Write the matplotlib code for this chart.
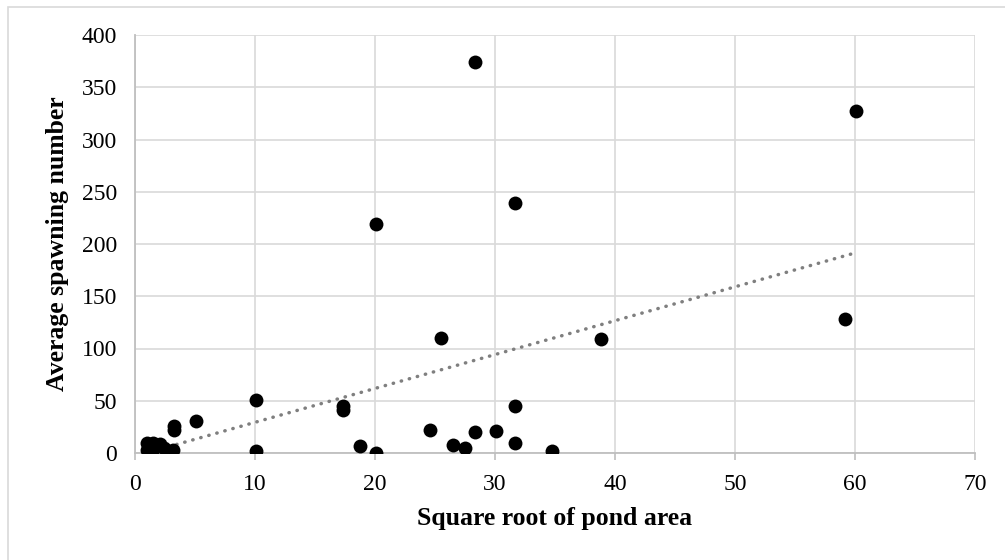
"""Scatter of average spawning number against square root of pond area."""

import matplotlib
matplotlib.use("Agg")
import matplotlib.pyplot as plt
import numpy as np

# Values
sqrt_area = [
    1.0, 1.5, 2.1, 1.0, 1.4, 2.4, 3.2, 3.25, 3.25, 5.1,
    10.1, 10.1, 17.3, 17.3, 18.75, 20.1, 20.1, 24.6, 25.5, 26.5,
    27.5, 28.3, 28.3, 30.05, 31.7, 31.7, 31.7, 34.75, 38.8, 59.2,
    60.1,
]
spawning = [
    10, 10, 9, 3, 0, 5, 3, 22, 26, 31,
    51, 2, 45, 41, 7, 219, 0, 22, 110, 8,
    5, 374, 20, 21, 239, 45, 10, 2, 109, 128,
    327,
]
x_ticks = [0, 10, 20, 30, 40, 50, 60, 70]
y_ticks = [0, 50, 100, 150, 200, 250, 300, 350, 400]

SERIF = ["Liberation Serif", "DejaVu Serif"]


def plot_spawning(x, y) -> None:
    """Draw the scatter with a linear trendline."""
    fig = plt.figure(figsize=(10.05, 5.6), dpi=100)
    ax = fig.add_axes([135 / 1005, 1 - 453 / 560, 840 / 1005, 418 / 560])

    # outer chart frame (left and top edges visible)
    fig.patches.append(plt.Rectangle((8 / 1005, -0.1), 1.2, 1 - 7 / 560 + 0.1,
                                     transform=fig.transFigure, fill=False,
                                     edgecolor="#d9d9d9", linewidth=1.2))

    ax.scatter(x, y, s=100, color="black", zorder=3, linewidths=0)

    coef = np.polyfit(x, y, 1)
    xs = np.array([min(x) - 0.2, max(x)])
    ax.plot(xs, np.polyval(coef, xs), color="#7f7f7f", linewidth=2.5,
            linestyle=(0, (0.1, 2.3)), dash_capstyle="round", zorder=2)

    ax.set_xlim(0, 70)
    ax.set_ylim(0, 400)
    ax.set_xticks(x_ticks)
    ax.set_yticks(y_ticks)
    ax.grid(True, color="#d9d9d9", linewidth=1.2)
    ax.set_axisbelow(True)

    for side in ["top", "right"]:
        ax.spines[side].set_visible(False)
    for side in ["left", "bottom"]:
        ax.spines[side].set_color("#bfbfbf")
        ax.spines[side].set_linewidth(1.3)

    ax.tick_params(axis="x", length=5, width=1.2, color="#bfbfbf", pad=10)
    ax.tick_params(axis="y", length=0, pad=13)
    for lab in ax.get_xticklabels() + ax.get_yticklabels():
        lab.set_family(SERIF)
        lab.set_fontsize(17)

    ax.set_xlabel("Square root of pond area", family=SERIF, fontsize=18.5,
                  fontweight="bold", labelpad=9)
    ax.set_ylabel("Average spawning number", family=SERIF, fontsize=18.5,
                  fontweight="bold", labelpad=9)

    fig.savefig("out.png", dpi=100)


def main() -> None:
    """Build the chart."""
    plot_spawning(sqrt_area, spawning)


if __name__ == "__main__":
    main()
